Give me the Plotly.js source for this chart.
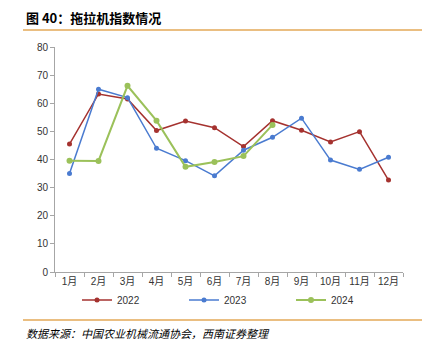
<!DOCTYPE html>
<html>
<head>
<meta charset="utf-8">
<script src="https://cdn.plot.ly/plotly-3.0.1.min.js"></script>
<style>html,body{margin:0;padding:0;background:#fff;}#chart{width:428px;height:353px;}</style>
</head>
<body>
<div id="chart"></div>
<script>
const months = ["1月","2月","3月","4月","5月","6月","7月","8月","9月","10月","11月","12月"];
const s2022 = [45.5,63.3,61.5,50.3,53.7,51.3,44.6,53.8,50.4,46.2,49.9,32.7];
const s2023 = [35.0,65.0,62.0,44.0,39.6,34.2,43.3,47.9,54.7,39.8,36.5,40.8];
const months2024 = ["1月","2月","3月","4月","5月","6月","7月","8月"];
const s2024 = [39.6,39.5,66.2,53.8,37.4,39.1,41.2,52.3];

const L = 55, R = 403, T = 47, B = 272;
const W = R - L, H = B - T;
const px = x => (x - L) / W;
const py = y => (B - y) / H;

const font = "Liberation Sans, Arial, Noto Sans CJK SC, sans-serif";
const traces = [
  {x: months, y: s2022, name: "2022", mode: "lines+markers", line: {color: "#A5322F", width: 1.5}, marker: {size: 5, color: "#A5322F"}},
  {x: months, y: s2023, name: "2023", mode: "lines+markers", line: {color: "#4A7BD0", width: 1.5}, marker: {size: 5, color: "#4A7BD0"}},
  {x: months2024, y: s2024, name: "2024", mode: "lines+markers", line: {color: "#9BC15A", width: 2}, marker: {size: 6, color: "#9BC15A"}}
];
const layout = {
  width: 428, height: 353,
  margin: {l: L, r: 428 - R, t: T, b: 353 - B, pad: 0},
  paper_bgcolor: "#fff", plot_bgcolor: "#fff",
  font: {family: font, size: 10, color: "#333"},
  showlegend: true,
  legend: {orientation: "h", x: px(77), xanchor: "left", y: py(300), yanchor: "middle",
           entrywidth: 62, entrywidthmode: "pixels", font: {size: 10, color: "#333"},
           bgcolor: "rgba(0,0,0,0)", tracegroupgap: 0},
  xaxis: {type: "category", categoryorder: "array", categoryarray: months, range: [-0.5, 11.5],
          tickmode: "array", tickvals: months, ticktext: months, tickangle: 0,
          showline: true, linecolor: "#A6A6A6", linewidth: 1, ticks: "outside", tickson: "boundaries",
          ticklen: 4, tickcolor: "#A6A6A6", showgrid: false, zeroline: false,
          tickfont: {size: 10, color: "#333"}},
  yaxis: {range: [0, 80], dtick: 10, showline: true, linecolor: "#A6A6A6", linewidth: 1,
          ticks: "outside", ticklen: 4, tickcolor: "#A6A6A6", showgrid: false, zeroline: false,
          tickfont: {size: 10, color: "#333"}},
  shapes: [
    {type: "line", xref: "paper", yref: "paper", x0: px(23), x1: px(422), y0: py(30), y1: py(30), line: {color: "#E3A857", width: 1.5}},
    {type: "line", xref: "paper", yref: "paper", x0: px(23), x1: px(422), y0: py(320), y1: py(320), line: {color: "#E3A857", width: 1.5}}
  ],
  annotations: [
    {text: "<b>图 40：拖拉机指数情况</b>", xref: "paper", yref: "paper", x: px(24), y: py(17), xanchor: "left", yanchor: "middle",
     showarrow: false, font: {family: "Noto Sans CJK SC, sans-serif", size: 13, color: "#000"}},
    {text: "<i>数据来源：中国农业机械流通协会，西南证券整理</i>", xref: "paper", yref: "paper", x: px(24), y: py(333), xanchor: "left", yanchor: "middle",
     showarrow: false, font: {family: "Noto Sans CJK SC, sans-serif", size: 11, color: "#000"}}
  ]
};
Plotly.newPlot("chart", traces, layout, {displayModeBar: false, staticPlot: true});
</script>
</body>
</html>
